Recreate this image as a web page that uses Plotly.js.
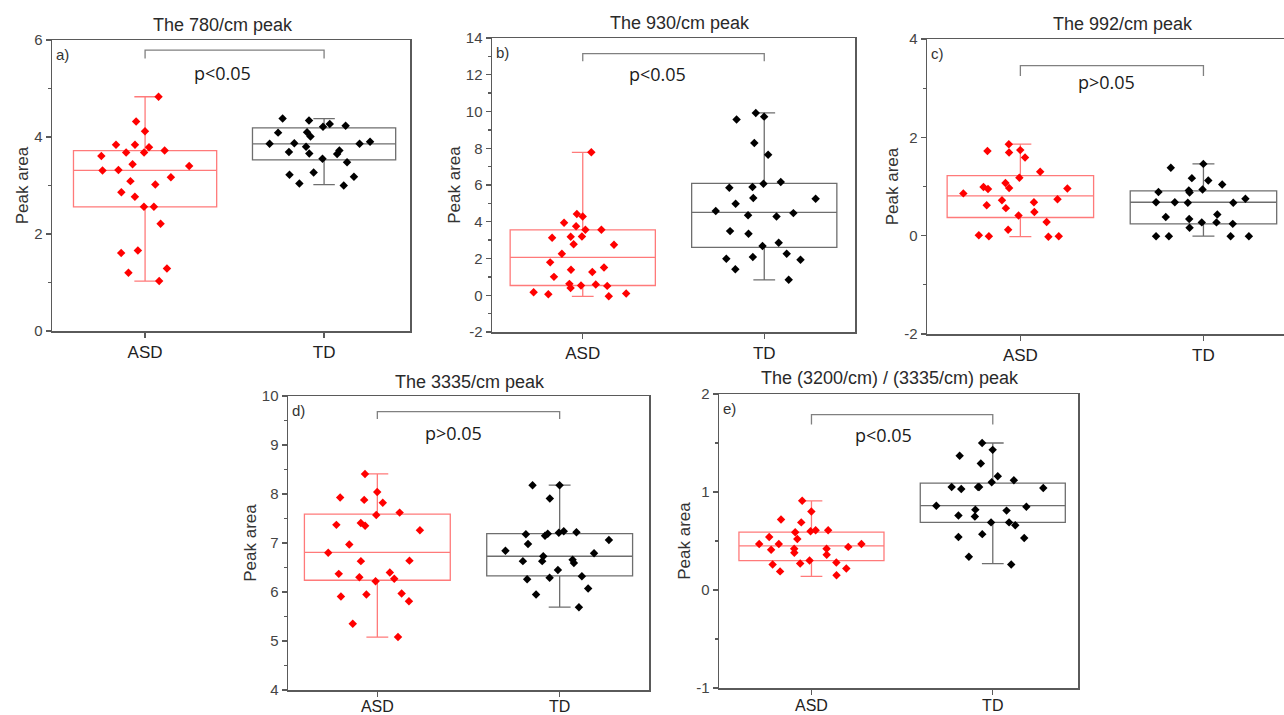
<!DOCTYPE html>
<html><head><meta charset="utf-8">
<script src="https://cdn.plot.ly/plotly-3.0.1.min.js"></script>
<style>html,body{margin:0;padding:0;background:#fff}#chart{width:1284px;height:715px}</style>
</head><body><div id="chart"></div>
<script>
// ---------------- data ----------------
const groups = ['ASD', 'TD'];
const panelTitles = ['The 780/cm peak', 'The 930/cm peak', 'The 992/cm peak', 'The 3335/cm peak', 'The (3200/cm) / (3335/cm) peak'];
const panelTags = ['a)', 'b)', 'c)', 'd)', 'e)'];
const pValues = ['p<0.05', 'p<0.05', 'p>0.05', 'p>0.05', 'p<0.05'];
const yTitle = 'Peak area';

// a) 780/cm
const aASD = [4.83, 4.32, 4.12, 3.84, 3.79, 3.84, 3.68, 3.68, 3.72, 3.61, 3.40, 3.44, 3.32, 3.31, 3.17, 3.09, 3.02, 2.86, 2.77, 2.56, 2.56, 2.21, 1.61, 1.66, 1.29, 1.20, 1.03];
const aTD = [4.38, 4.34, 4.27, 4.10, 4.21, 4.23, 4.09, 4.01, 3.86, 3.87, 3.90, 3.86, 3.80, 3.69, 3.65, 3.72, 3.66, 3.55, 3.48, 3.27, 3.22, 3.18, 3.04, 3.00];
const aQ1 = [2.56, 3.53], aMedian = [3.31, 3.86], aQ3 = [3.72, 4.19], aLow = [1.03, 3.02], aHigh = [4.83, 4.38];

// b) 930/cm
const bASD = [7.78, 4.42, 4.29, 3.95, 3.76, 3.56, 3.56, 3.18, 3.13, 3.20, 2.75, 2.77, 2.26, 1.79, 1.51, 1.39, 1.26, 1.00, 0.62, 0.51, 0.58, 0.53, 0.40, 0.16, 0.05, 0.09, -0.06];
const bTD = [9.92, 9.72, 9.57, 8.28, 7.65, 6.16, 6.07, 5.89, 5.85, 5.25, 5.29, 4.98, 4.58, 4.47, 4.29, 4.35, 3.49, 3.35, 2.86, 2.68, 2.26, 1.99, 2.08, 1.93, 1.42, 0.84];
const bQ1 = [0.53, 2.60], bMedian = [2.06, 4.51], bQ3 = [3.56, 6.09], bLow = [-0.06, 0.84], bHigh = [7.78, 9.92];

// c) 992/cm
const cASD = [1.86, 1.74, 1.72, 1.69, 1.59, 1.30, 1.18, 1.07, 0.99, 0.95, 0.96, 0.97, 0.86, 0.74, 0.72, 0.68, 0.62, 0.56, 0.48, 0.41, 0.28, 0.12, 0.01, -0.01, -0.01, -0.02];
const cTD = [1.46, 1.38, 1.17, 1.12, 1.04, 0.94, 0.92, 0.88, 0.89, 0.75, 0.67, 0.67, 0.68, 0.68, 0.43, 0.38, 0.34, 0.27, 0.24, 0.27, 0.16, -0.01, -0.01, -0.01, -0.01];
const cQ1 = [0.37, 0.24], cMedian = [0.81, 0.68], cQ3 = [1.22, 0.91], cLow = [-0.02, -0.01], cHigh = [1.86, 1.46];

// d) 3335/cm
const dASD = [8.41, 8.04, 7.93, 7.88, 7.82, 7.62, 7.57, 7.37, 7.41, 7.35, 7.26, 6.97, 6.80, 6.63, 6.64, 6.37, 6.40, 6.27, 6.22, 6.30, 5.95, 5.91, 5.97, 5.81, 5.35, 5.08];
const dTD = [8.18, 8.18, 7.91, 7.24, 7.21, 7.22, 7.19, 7.18, 7.15, 7.06, 6.98, 6.84, 6.79, 6.66, 6.73, 6.59, 6.63, 6.63, 6.45, 6.32, 6.29, 6.26, 6.07, 5.95, 5.69];
const dQ1 = [6.24, 6.33], dMedian = [6.81, 6.73], dQ3 = [7.59, 7.19], dLow = [5.08, 5.69], dHigh = [8.41, 8.18];

// e) 3200/3335 ratio
const eASD = [0.91, 0.80, 0.72, 0.69, 0.59, 0.61, 0.61, 0.60, 0.54, 0.52, 0.47, 0.47, 0.47, 0.44, 0.42, 0.41, 0.42, 0.38, 0.36, 0.30, 0.28, 0.27, 0.26, 0.22, 0.19, 0.15];
const eTD = [1.50, 1.43, 1.37, 1.29, 1.16, 1.10, 1.12, 1.05, 1.05, 1.05, 1.03, 1.04, 0.86, 0.85, 0.82, 0.81, 0.75, 0.76, 0.69, 0.69, 0.66, 0.57, 0.53, 0.54, 0.34, 0.26];
const eQ1 = [0.30, 0.69], eMedian = [0.45, 0.86], eQ3 = [0.59, 1.09], eLow = [0.14, 0.27], eHigh = [0.91, 1.50];

// ---------------- layout config (positions / styles) ----------------
const W = 1284, H = 715;
const panels = [
  {asd: aASD, td: aTD, q1: aQ1, med: aMedian, q3: aQ3, lo: aLow, hi: aHigh,
   box: [52, 410, 40, 331], xr: [-0.52, 1.48], yr: [0, 6], dtick: 2, minor: 1,
   bracket: [5.79, 5.62], ptext: [0.43, 5.31], title: [223, 25], xstand: 0, xfont: 17},
  {asd: bASD, td: bTD, q1: bQ1, med: bMedian, q3: bQ3, lo: bLow, hi: bHigh,
   box: [492, 855, 38, 332], xr: [-0.5, 1.5], yr: [-2, 14], dtick: 2, minor: 1,
   bracket: [13.15, 12.73], ptext: [0.41, 12.06], title: [680, 23], xstand: 0, xfont: 17},
  {asd: cASD, td: cTD, q1: cQ1, med: cMedian, q3: cQ3, lo: cLow, hi: cHigh,
   box: [927, 1284, 39, 334], xr: [-0.51, 1.44], yr: [-2, 4], dtick: 2, minor: 1,
   bracket: [3.46, 3.25], ptext: [0.47, 3.12], title: [1123, 24], xstand: 0, xfont: 17},
  {asd: dASD, td: dTD, q1: dQ1, med: dMedian, q3: dQ3, lo: dLow, hi: dHigh,
   box: [288, 649, 396, 690], xr: [-0.49, 1.49], yr: [4, 10], dtick: 1, minor: 0.5,
   bracket: [9.68, 9.53], ptext: [0.42, 9.25], title: [470, 382], xstand: -4, xfont: 16},
  {asd: eASD, td: eTD, q1: eQ1, med: eMedian, q3: eQ3, lo: eLow, hi: eHigh,
   box: [719, 1078, 394, 688], xr: [-0.51, 1.47], yr: [-1, 2], dtick: 1, minor: 0.5,
   bracket: [1.79, 1.69], ptext: [0.40, 1.58], title: [890, 378], xstand: -3, xfont: 16}
];
const pointColors = ['#ff0000', '#000000'];
const boxColors = ['#ff7a7a', '#6e6e6e'];
const axisColor = '#5a5a5a';
const sans = 'Liberation Sans, Arial, sans-serif';

const traces = [];
const layout = {
  width: W, height: H, margin: {l: 0, r: 0, t: 0, b: 0},
  paper_bgcolor: '#fff', plot_bgcolor: '#fff', showlegend: false,
  boxmode: 'overlay', font: {family: sans, color: '#333'},
  annotations: [], shapes: []
};

panels.forEach((p, i) => {
  const n = i + 1;
  const xa = 'x' + (n === 1 ? '' : n), ya = 'y' + (n === 1 ? '' : n);
  const xk = 'xaxis' + (n === 1 ? '' : n), yk = 'yaxis' + (n === 1 ? '' : n);
  const [l, r, t, b] = p.box;
  const tv = [];
  for (let v = p.yr[0]; v <= p.yr[1] + 1e-9; v += p.dtick) tv.push(v);
  layout[xk] = {
    domain: [l / W, Math.min(r / W, 1)], anchor: ya, type: 'linear', range: p.xr,
    tickvals: [0, 1], ticktext: groups, ticks: 'outside', ticklen: 5, tickwidth: 1.3,
    ticklabelstandoff: p.xstand,
    tickcolor: axisColor, showline: true, mirror: true, linecolor: axisColor, linewidth: 1.5,
    showgrid: false, zeroline: false, tickfont: {size: p.xfont, color: '#222', family: sans}
  };
  layout[yk] = {
    domain: [1 - b / H, 1 - t / H], anchor: xa, range: p.yr,
    tickvals: tv, ticktext: tv.map(v => String(v)),
    ticks: 'outside', ticklen: 5, tickwidth: 1.3, tickcolor: axisColor,
    minor: {dtick: p.minor, tick0: 0, ticks: 'outside', ticklen: 3, tickcolor: axisColor, showgrid: false},
    showline: true, mirror: true, linecolor: axisColor, linewidth: 1.5,
    showgrid: false, zeroline: false, tickfont: {size: 15, color: '#444', family: sans},
    title: {text: yTitle, font: {size: 17, color: '#333', family: sans}, standoff: 1}
  };
  const sets = [p.asd, p.td];
  for (let g = 0; g < 2; g++) {
    traces.push({
      type: 'box', xaxis: xa, yaxis: ya, x: [g],
      q1: [p.q1[g]], median: [p.med[g]], q3: [p.q3[g]],
      lowerfence: [p.lo[g]], upperfence: [p.hi[g]],
      width: 0.8, whiskerwidth: 0.15, boxpoints: false,
      line: {color: boxColors[g], width: 1.3}, fillcolor: 'rgba(0,0,0,0)',
      hoverinfo: 'skip', showlegend: false
    });
    traces.push({
      type: 'box', xaxis: xa, yaxis: ya, y: sets[g], x0: g, name: groups[g],
      width: 0.8, boxpoints: 'all', jitter: 0.8, pointpos: 0,
      line: {width: 0, color: 'rgba(0,0,0,0)'}, fillcolor: 'rgba(0,0,0,0)',
      marker: {symbol: 'diamond', size: 6.5, color: pointColors[g], line: {width: 0}},
      showlegend: false
    });
  }
  // significance bracket
  layout.shapes.push({
    type: 'path', xref: xa, yref: ya,
    path: `M 0 ${p.bracket[1]} L 0 ${p.bracket[0]} L 1 ${p.bracket[0]} L 1 ${p.bracket[1]}`,
    line: {color: '#808080', width: 1.3}
  });
  layout.annotations.push({
    xref: xa, yref: ya, x: p.ptext[0], y: p.ptext[1], text: pValues[i], showarrow: false,
    font: {family: 'Open Sans, sans-serif', size: 18, color: '#1a1a1a'}
  });
  // panel tag
  layout.annotations.push({
    xref: xa + ' domain', yref: ya + ' domain', x: 0.005, y: 0.985, xanchor: 'left', yanchor: 'top',
    text: panelTags[i], showarrow: false, font: {size: 15, color: '#333', family: sans}
  });
  // panel title
  layout.annotations.push({
    xref: 'paper', yref: 'paper', x: p.title[0] / W, y: 1 - p.title[1] / H,
    xanchor: 'center', yanchor: 'middle', text: panelTitles[i], showarrow: false,
    font: {size: 18, color: '#2a2a2a', family: sans}
  });
});

Plotly.newPlot('chart', traces, layout, {displayModeBar: false, staticPlot: true});
</script>
</body></html>
